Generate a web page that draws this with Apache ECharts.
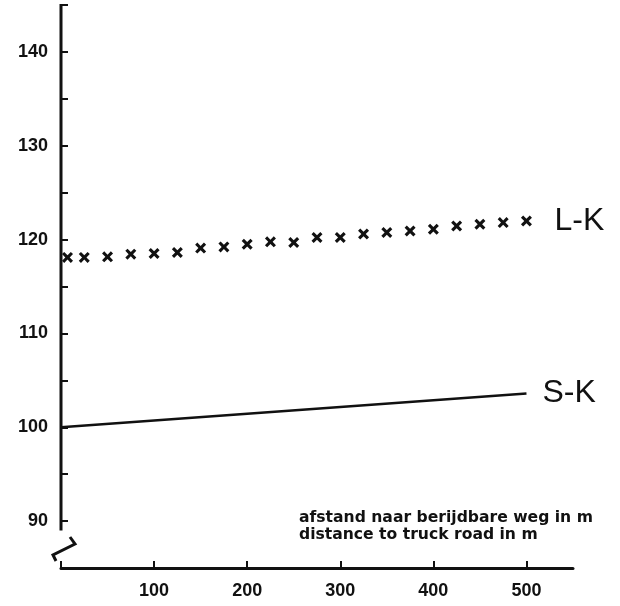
<!DOCTYPE html>
<html>
<head>
<meta charset="utf-8">
<script src="https://cdn.jsdelivr.net/npm/echarts@6/dist/echarts.min.js"></script>
<style>html,body{margin:0;padding:0;background:#fff}#c{width:620px;height:606px}</style>
</head>
<body>
<div id="c"></div>
<script>
// ---- data ----
const lkDistance = [7, 25, 50, 75, 100, 125, 150, 175, 200, 225, 250, 275, 300, 325, 350, 375, 400, 425, 450, 475, 500];
const lkValues = [118.1, 118.1, 118.16, 118.45, 118.52, 118.63, 119.09, 119.22, 119.51, 119.76, 119.69, 120.22, 120.22, 120.6, 120.75, 120.92, 121.1, 121.45, 121.63, 121.81, 121.98];
const skDistance = [0, 500];
const skValues = [100.0, 103.6];
const xTickValues = [0, 100, 200, 300, 400, 500];
const xLabelValues = [100, 200, 300, 400, 500];
const yTickValues = [90, 95, 100, 105, 110, 115, 120, 125, 130, 135, 140, 145];
const yLabelValues = [90, 100, 110, 120, 130, 140];
const seriesNames = ['L-K', 'S-K'];
const axisTitle = 'afstand naar berijdbare weg in m\ndistance to truck road in m';

(function () {
const chart = echarts.init(document.getElementById('c'));
const crossPath = 'path://M0,2 L2,0 L5,3 L8,0 L10,2 L7,5 L10,8 L8,10 L5,7 L2,10 L0,8 L3,5 Z';
const ink = '#111';

chart.setOption({
  animation: false,
  backgroundColor: '#fff',
  title: {
    text: axisTitle,
    left: 299, top: 509,
    padding: 0,
    textStyle: {fontFamily: 'DejaVu Sans', fontWeight: 'bold', fontSize: 15.6, lineHeight: 17, color: ink}
  },
  grid: {left: 61, right: 47, top: 5, bottom: 38, containLabel: false},
  xAxis: {
    type: 'value', min: 0, max: 550,
    axisLine: {show: true, lineStyle: {color: ink, width: 3}},
    axisTick: {show: true, inside: true, length: 7, customValues: xTickValues, lineStyle: {color: ink, width: 2}},
    axisLabel: {customValues: xLabelValues, margin: 14, fontFamily: 'Liberation Sans', fontWeight: 'bold', fontSize: 18, color: ink},
    splitLine: {show: false}
  },
  yAxis: {
    type: 'value', min: 85, max: 145,
    axisLine: {show: false},
    axisTick: {show: true, inside: true, length: 7, customValues: yTickValues, lineStyle: {color: ink, width: 2}},
    axisLabel: {customValues: yLabelValues, margin: 13, fontFamily: 'Liberation Sans', fontWeight: 'bold', fontSize: 18, color: ink},
    splitLine: {show: false}
  },
  series: [
    {
      name: seriesNames[0], type: 'line',
      data: lkDistance.map((d, i) => [d, lkValues[i]]),
      symbol: crossPath, symbolSize: 11,
      itemStyle: {color: ink},
      lineStyle: {width: 0, opacity: 0},
      endLabel: {show: true, formatter: seriesNames[0], distance: 28, fontFamily: 'Liberation Sans', fontSize: 32, color: ink}
    },
    {
      name: seriesNames[1], type: 'line',
      data: skDistance.map((d, i) => [d, skValues[i]]),
      symbol: 'none',
      lineStyle: {width: 2.5, color: ink},
      endLabel: {show: true, formatter: seriesNames[1], distance: 16, fontFamily: 'Liberation Sans', fontSize: 32, color: ink}
    }
  ]
});

// y-axis line (broken near the bottom) and the break mark
const pTop = chart.convertToPixel({gridIndex: 0}, [0, 145]);
const pBrk = chart.convertToPixel({gridIndex: 0}, [0, 89]);
const pCorner = chart.convertToPixel({gridIndex: 0}, [0, 85]);
chart.setOption({
  graphic: [
    {type: 'line', shape: {x1: pTop[0], y1: pTop[1] - 1, x2: pBrk[0], y2: pBrk[1]}, style: {stroke: ink, lineWidth: 3}},
    {type: 'polyline', shape: {points: [
      [pCorner[0] + 9, pCorner[1] - 31], [pCorner[0] + 14, pCorner[1] - 24],
      [pCorner[0] - 8, pCorner[1] - 13], [pCorner[0] - 5, pCorner[1] - 7]
    ]}, style: {stroke: ink, lineWidth: 3, fill: null}}
  ]
});
})();
</script>
</body>
</html>
